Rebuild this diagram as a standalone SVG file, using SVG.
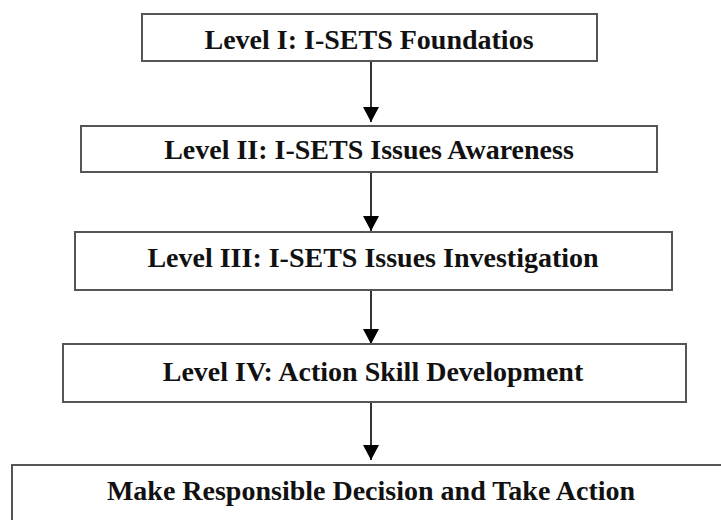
<svg xmlns="http://www.w3.org/2000/svg" width="721" height="520" viewBox="0 0 721 520">
<defs>
<style>
.box{fill:#fff;stroke:#555;stroke-width:2}
.lbl{font-family:"Liberation Serif","Times New Roman",serif;font-weight:bold;font-size:28px;fill:#111;text-anchor:middle}
.conn{stroke:#000;stroke-width:1.6;fill:none}
</style>
<marker id="ah" markerUnits="userSpaceOnUse" markerWidth="16" markerHeight="16" refX="15" refY="8" orient="auto">
<path d="M0,0 L15,8 L0,16 Z" fill="#000"/>
</marker>
</defs>
<rect width="721" height="520" fill="#fff"/>
<g id="connectors">
<line class="conn" x1="371" y1="62" x2="371" y2="122" marker-end="url(#ah)"/>
<line class="conn" x1="371" y1="173" x2="371" y2="231" marker-end="url(#ah)"/>
<line class="conn" x1="371" y1="291" x2="371" y2="344" marker-end="url(#ah)"/>
<line class="conn" x1="371" y1="403" x2="371" y2="460" marker-end="url(#ah)"/>
</g>
<g id="level1">
<rect class="box" x="142" y="14" width="455" height="47"/>
<text class="lbl" x="369" y="49">Level I: I-SETS Foundatios</text>
</g>
<g id="level2">
<rect class="box" x="81" y="126" width="576" height="46"/>
<text class="lbl" x="369" y="159">Level II: I-SETS Issues Awareness</text>
</g>
<g id="level3">
<rect class="box" x="75" y="232" width="597" height="58"/>
<text class="lbl" x="373" y="267">Level III: I-SETS Issues Investigation</text>
</g>
<g id="level4">
<rect class="box" x="63" y="344" width="623" height="58"/>
<text class="lbl" x="373" y="381">Level IV: Action Skill Development</text>
</g>
<g id="action">
<rect class="box" x="12" y="465" width="715" height="62"/>
<text class="lbl" x="371" y="500">Make Responsible Decision and Take Action</text>
</g>
</svg>
